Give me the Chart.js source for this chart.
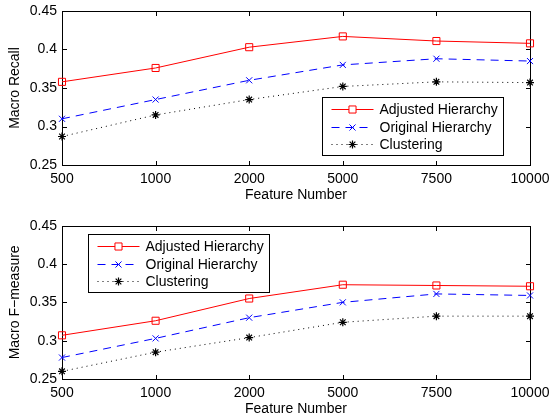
<!DOCTYPE html>
<html>
<head>
<meta charset="utf-8">
<script src="https://cdn.jsdelivr.net/npm/chart.js@4/dist/chart.umd.min.js"></script>
<style>
  html, body { margin: 0; padding: 0; background: #fff; }
  #wrap { position: relative; width: 552px; height: 417px; overflow: hidden; }
  canvas { position: absolute; left: 0; }
  #c1 { top: 0; }
  #c2 { top: 207px; }
</style>
</head>
<body>
<div id="wrap">
  <canvas id="c1" width="552" height="210"></canvas>
  <canvas id="c2" width="552" height="210"></canvas>
</div>
<script>
// Feature counts on the x axis (evenly spaced categories)
const featureNumbers = ['500', '1000', '2000', '5000', '7500', '10000'];
const yTicks = [0.25, 0.3, 0.35, 0.4, 0.45];
const yTickLabels = ['0.25', '0.3', '0.35', '0.4', '0.45'];
const seriesNames = ['Adjusted Hierarchy', 'Original Hierarchy', 'Clustering'];

// Macro recall per method
const recallAdjusted = [0.358, 0.376, 0.403, 0.417, 0.411, 0.408];
const recallOriginal = [0.310, 0.335, 0.360, 0.380, 0.388, 0.385];
const recallClustering = [0.287, 0.315, 0.335, 0.352, 0.358, 0.357];

// Macro F-measure per method
const fAdjusted = [0.307, 0.326, 0.355, 0.373, 0.372, 0.371];
const fOriginal = [0.278, 0.303, 0.330, 0.350, 0.361, 0.359];
const fClustering = [0.260, 0.285, 0.304, 0.324, 0.332, 0.332];

const FONT = "'Liberation Sans', Arial, Helvetica, sans-serif";

function makeDatasets(a, o, c) {
  return [
    { label: seriesNames[0], data: a, borderColor: '#ff0000', backgroundColor: 'rgba(0,0,0,0)',
      borderWidth: 1, pointStyle: 'rect', pointRadius: 5, pointBorderWidth: 1,
      pointBorderColor: '#ff0000', pointBackgroundColor: 'rgba(0,0,0,0)', clip: false, tension: 0 },
    { label: seriesNames[1], data: o, borderColor: '#0000ff', backgroundColor: 'rgba(0,0,0,0)',
      borderWidth: 1, borderDash: [8, 6], pointStyle: 'crossRot', pointRadius: 4.3, pointBorderWidth: 1,
      pointBorderColor: '#0000ff', clip: false, tension: 0 },
    { label: seriesNames[2], data: c, borderColor: '#000000', backgroundColor: 'rgba(0,0,0,0)',
      borderWidth: 1, borderDash: [1, 4], pointStyle: 'star', pointRadius: 4, pointBorderWidth: 1.2,
      pointBorderColor: '#000000', clip: false, tension: 0 }
  ];
}

// Box frame with inward tick marks on all four sides
const framePlugin = {
  id: 'frame',
  beforeDatasetsDraw(chart) {
    const { ctx, chartArea: a, scales } = chart;
    const L = Math.round(a.left) + 0.5, R = Math.round(a.right) + 0.5;
    const T = Math.round(a.top) + 0.5, B = Math.round(a.bottom) + 0.5;
    const tl = 4.5;
    ctx.save();
    ctx.strokeStyle = '#000';
    ctx.lineWidth = 1;
    ctx.beginPath();
    scales.x.ticks.forEach((t, i) => {
      const px = Math.round(scales.x.getPixelForTick(i)) + 0.5;
      ctx.moveTo(px, B); ctx.lineTo(px, B - tl);
      ctx.moveTo(px, T); ctx.lineTo(px, T + tl);
    });
    scales.y.ticks.forEach(t => {
      const py = Math.round(scales.y.getPixelForValue(t.value)) + 0.5;
      ctx.moveTo(L, py); ctx.lineTo(L + tl, py);
      ctx.moveTo(R, py); ctx.lineTo(R - tl, py);
    });
    ctx.stroke();
    ctx.strokeRect(L, T, R - L, B - T);
    ctx.restore();
  }
};

// Boxed legend drawn inside the plot area
const boxLegendPlugin = {
  id: 'boxLegend',
  afterDatasetsDraw(chart, args, opts) {
    const { ctx, chartArea: a } = chart;
    const w = 181, h = 58;
    const x0 = opts.anchor === 'right' ? a.right - opts.dx - w : a.left + opts.dx;
    const y0 = opts.anchor === 'right' ? a.bottom - opts.dy - h : a.top + opts.dy;
    const X = Math.round(x0) + 0.5, Y = Math.round(y0) + 0.5;
    ctx.save();
    ctx.fillStyle = '#fff';
    ctx.fillRect(X, Y, w, h);
    ctx.strokeStyle = '#000';
    ctx.lineWidth = 1;
    ctx.strokeRect(X, Y, w, h);
    ctx.font = '14px ' + FONT;
    ctx.textBaseline = 'middle';
    ctx.textAlign = 'left';
    chart.data.datasets.forEach((ds, i) => {
      const cy = Math.round(Y + 11.5 + i * 17.5) + 0.5;
      ctx.save();
      ctx.strokeStyle = ds.borderColor;
      ctx.lineWidth = ds.borderWidth;
      ctx.setLineDash(ds.borderDash || []);
      ctx.beginPath();
      ctx.moveTo(X + 9, cy);
      ctx.lineTo(X + 51, cy);
      ctx.stroke();
      ctx.setLineDash([]);
      const mx = X + 30;
      const style = { pointStyle: ds.pointStyle, radius: ds.pointRadius, borderWidth: ds.pointBorderWidth, rotation: 0 };
      ctx.strokeStyle = ds.pointBorderColor;
      ctx.fillStyle = ds.pointStyle === 'rect' ? '#fff' : ds.pointBorderColor;
      ctx.lineWidth = ds.pointBorderWidth;
      if (Chart.helpers && Chart.helpers.drawPoint) {
        Chart.helpers.drawPoint(ctx, style, mx, cy);
      }
      ctx.restore();
      ctx.fillStyle = '#000';
      ctx.fillText(ds.label, X + 57, cy + 0.5);
    });
    ctx.restore();
  }
};

function zeroPadding(s) {
  s.paddingLeft = 0; s.paddingRight = 0; s.paddingTop = 0; s.paddingBottom = 0;
}

function makeChart(id, yTitle, datasets, padTop, axisH, titleBottom, legendOpts) {
  return new Chart(document.getElementById(id), {
    type: 'line',
    data: { labels: featureNumbers, datasets },
    options: {
      responsive: false,
      animation: false,
      events: [],
      layout: { padding: { left: 0, right: 22, top: padTop, bottom: 0 } },
      plugins: {
        legend: { display: false },
        tooltip: { enabled: false },
        boxLegend: legendOpts
      },
      scales: {
        x: {
          type: 'category',
          offset: false,
          grid: { display: false, drawTicks: false },
          border: { display: false },
          ticks: { color: '#000', padding: 7, maxRotation: 0, autoSkip: false,
                   font: { family: FONT, size: 14, lineHeight: 1 } },
          title: { display: true, text: 'Feature Number', color: '#000',
                   font: { family: FONT, size: 14, lineHeight: 1 }, padding: { top: 0, bottom: titleBottom } },
          afterFit(s) { s.height = axisH; zeroPadding(s); }
        },
        y: {
          min: 0.25, max: 0.45,
          grid: { display: false, drawTicks: false },
          border: { display: false },
          afterBuildTicks(s) { s.ticks = yTicks.map(v => ({ value: v })); },
          ticks: { color: '#000', padding: 5,
                   callback: (v) => yTickLabels[yTicks.findIndex(t => Math.abs(t - v) < 1e-9)],
                   font: { family: FONT, size: 14, lineHeight: 1 } },
          title: { display: true, text: yTitle, color: '#000',
                   font: { family: FONT, size: 14, lineHeight: 1 }, padding: { top: 8.5, bottom: 0 } },
          afterFit(s) { s.width = 62; zeroPadding(s); }
        }
      }
    },
    plugins: [framePlugin, boxLegendPlugin]
  });
}

makeChart('c1', 'Macro Recall', makeDatasets(recallAdjusted, recallOriginal, recallClustering),
          11, 45, 8, { anchor: 'right', dx: 27, dy: 10 });
makeChart('c2', 'Macro F\u2212measure', makeDatasets(fAdjusted, fOriginal, fClustering),
          18.7, 38, 1, { anchor: 'left', dx: 26, dy: 8 });
</script>
</body>
</html>
